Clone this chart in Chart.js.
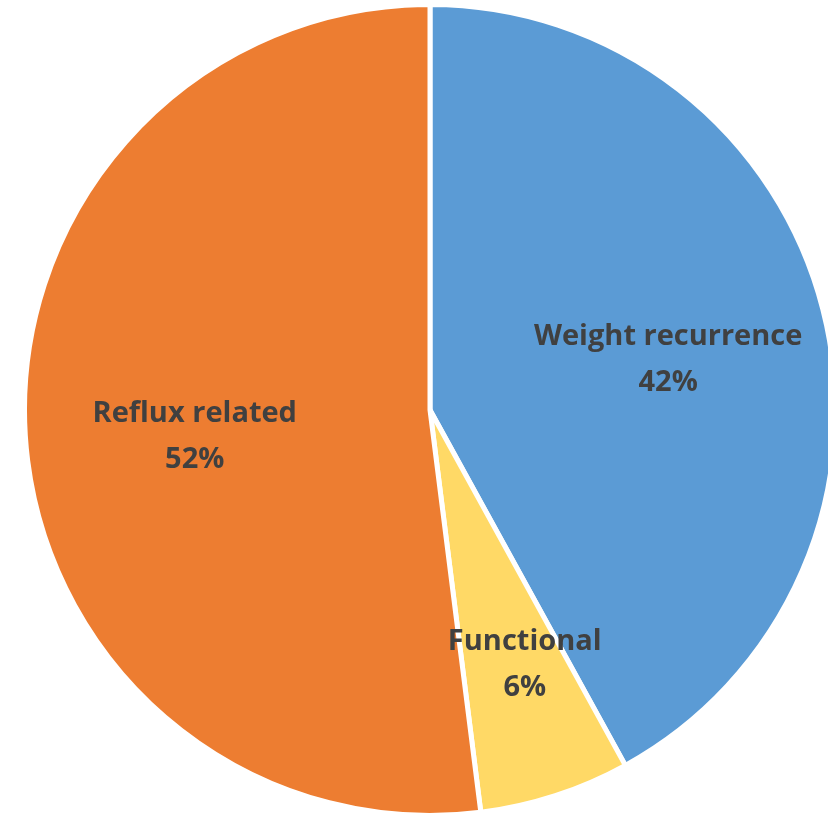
<!DOCTYPE html>
<html>
<head>
<meta charset="utf-8">
<script src="https://cdn.jsdelivr.net/npm/chart.js@4.4.0/dist/chart.umd.min.js"></script>
<style>
  html, body { margin: 0; padding: 0; background: #fff; overflow: hidden; }
  #wrap { position: absolute; left: 0; top: 0; width: 860px; height: 819px; }
</style>
</head>
<body>
<div id="wrap"><canvas id="chart"></canvas></div>
<script>
const CATEGORIES = ["Weight recurrence", "Functional", "Reflux related"];
const VALUES = [42, 6, 52];
const COLORS = ["#5B9BD5", "#FFD966", "#ED7D31"];
// where each label sits: share of the radius, and a small turn off the slice middle
const LABEL_RADIUS = [0.6, 0.67, 0.584];
const LABEL_TURN = [0.045, -0.042, -0.052];

const sliceLabels = {
  id: "sliceLabels",
  afterDatasetsDraw(chart) {
    const ctx = chart.ctx;
    const meta = chart.getDatasetMeta(0);
    ctx.save();
    ctx.font = "bold 29px 'Open Sans', Lato, sans-serif";
    ctx.fillStyle = "#404040";
    ctx.textAlign = "center";
    ctx.textBaseline = "middle";
    meta.data.forEach((arc, i) => {
      const mid = (arc.startAngle + arc.endAngle) / 2 + LABEL_TURN[i];
      const r = arc.outerRadius * LABEL_RADIUS[i];
      const x = arc.x + Math.cos(mid) * r;
      const y = arc.y + Math.sin(mid) * r;
      ctx.fillText(CATEGORIES[i], x, y - 23);
      ctx.fillText(VALUES[i] + "%", x, y + 23);
    });
    ctx.restore();
  }
};

new Chart(document.getElementById("chart"), {
  type: "pie",
  data: {
    labels: CATEGORIES,
    datasets: [{
      data: VALUES,
      backgroundColor: COLORS,
      borderColor: "#ffffff",
      borderWidth: 5
    }]
  },
  options: {
    responsive: true,
    maintainAspectRatio: false,
    animation: false,
    layout: { padding: { left: 20, right: 20, top: 2, bottom: 1 } },
    plugins: {
      legend: { display: false },
      tooltip: { enabled: false }
    }
  },
  plugins: [sliceLabels]
});
</script>
</body>
</html>
